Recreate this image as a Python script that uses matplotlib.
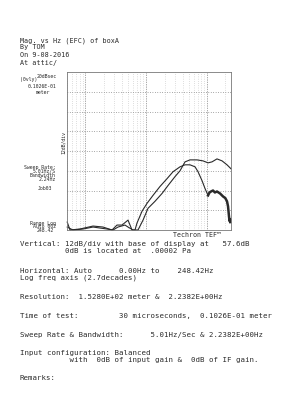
import numpy as np
import matplotlib
matplotlib.use("Agg")
from matplotlib import pyplot as plt

# curve readings (Hz, dB) off the printout
freq_a = [0.5, 0.556, 0.81, 1.33, 1.94, 2.73, 3.30, 3.99, 5.01, 5.83, 6.53, 7.04,
          8.52, 10.3, 12.9, 16.8, 22.0, 27.6, 36.0, 43.5, 52.5, 63.5, 71.2, 82.8,
          92.8, 104]
db_a = [62.4, 57.6, 58.2, 60.0, 59.4, 57.6, 60.6, 60.6, 63.6, 57.6, 57.6, 61.8,
        69.0, 73.8, 78.6, 84.0, 88.8, 93.0, 96.0, 97.2, 97.2, 96.0, 93.0, 87.6,
        82.8, 78.6]
# noisy thick tail of curve a
freq_tail = [104, 110, 116.6, 125.6, 135, 146, 164, 183.6, 200, 213.6, 222, 226, 230, 235, 240, 242]
db_tail = [78.6, 80.4, 81.0, 81.6, 80.4, 81.0, 79.8, 78.0, 77.0, 75.0, 72.0, 69.0, 66.0, 63.0, 64.2, 62.4]

freq_b = [0.5, 0.62, 0.91, 1.33, 2.26, 2.84, 3.43, 4.47, 5.01, 6.05, 7.32, 8.85,
          10.7, 13.9, 18.2, 22.8, 29.7, 36.0, 43.5, 52.5, 68.5, 86.0, 104, 121,
          146, 177, 213.6, 248.4]
db_b = [59.4, 57.6, 58.2, 59.4, 58.2, 57.6, 59.4, 60.6, 59.4, 57.6, 57.6, 63.6,
        70.8, 75.0, 79.8, 84.6, 90.0, 93.6, 99.0, 100.2, 100.2, 99.6, 98.4, 99.0,
        100.8, 99.6, 97.2, 94.8]

f_lo, f_hi = 0.496, 248.42
db_base, db_div, n_div = 57.6, 12, 8

W, H = 282, 400
ink = "#2a2a2a"
mono = "DejaVu Sans Mono"

fig = plt.figure(figsize=(W / 100, H / 100), dpi=100)
fig.patch.set_facecolor("white")

def px(x, y):
    return x / W, 1 - y / H

ax = fig.add_axes([67 / W, 1 - 230 / H, 164 / W, 158 / H])
ax.set_xscale("log")
ax.set_xlim(f_lo, f_hi)
ax.set_ylim(db_base, db_base + db_div * n_div)
ax.set_xticks([])
ax.set_yticks([])
ax.minorticks_off()
for s in ax.spines.values():
    s.set_color("#777777")
    s.set_linewidth(0.6)

# grid
for k in range(1, n_div):
    ax.axhline(db_base + k * db_div, color="#555555", lw=0.5, ls=(0, (1, 2.5)))
for dec in [0.1, 1, 10, 100]:
    for m in range(1, 10):
        f = dec * m
        if f_lo < f < f_hi:
            if m == 1:
                ax.axvline(f, color="#555555", lw=0.5, ls=(0, (1, 1.5)))
            else:
                ax.axvline(f, color="#999999", lw=0.4, ls=(0, (1, 3)))

ax.plot(freq_a, db_a, color=ink, lw=0.8, clip_on=False)
ax.plot(freq_tail, db_tail, color=ink, lw=1.8, clip_on=False)
ax.plot(freq_b, db_b, color=ink, lw=0.8, clip_on=False)

# header
hdr = dict(fontsize=4.9, family=mono, color=ink, va="center", ha="left")
fig.text(*px(20, 41), "Mag. vs Hz (EFC) of boxA", **hdr)
fig.text(*px(20, 47), "By TOM", **hdr)
fig.text(*px(20, 55), "On 9-08-2016", **hdr)
fig.text(*px(20, 63), "At attic/", **hdr)

# left side labels
sml = dict(fontsize=3.5, family=mono, color=ink, va="center", ha="right")
fig.text(*px(20, 80), "(0vly)", fontsize=3.5, family=mono, color=ink,
         va="center", ha="left")
fig.text(*px(57, 77), "20dBsec", **sml)
fig.text(*px(56, 86), "0.1026E-01", **sml)
fig.text(*px(50, 92), "meter", **sml)
fig.text(*px(63, 142), "12dB/div", fontsize=3.5, family=mono, color=ink,
         va="center", ha="center", rotation=90)
fig.text(*px(56, 167), "Sweep Rate:", **sml)
fig.text(*px(56, 171), "5.01Hz/S", **sml)
fig.text(*px(56, 176), "Bandwidth", **sml)
fig.text(*px(56, 180), "2.24Hz", **sml)
fig.text(*px(52, 189), "Job03", **sml)
fig.text(*px(56, 223), "Range Log", **sml)
fig.text(*px(56, 227), "Auto 002", **sml)
fig.text(*px(54, 231), "248.42", **sml)

fig.text(*px(173, 235), "Techron TEF\u2122", fontsize=4.8, family=mono, color=ink,
         va="center", ha="left")

# footer block
body = dict(fontsize=5.3, family=mono, color=ink, va="center", ha="left")
lines = [
    (244, "Vertical: 12dB/div with base of display at   57.6dB"),
    (251, "          0dB is located at  .00002 Pa"),
    (271, "Horizontal: Auto      0.00Hz to    248.42Hz"),
    (278, "Log freq axis (2.7decades)"),
    (297, "Resolution:  1.5280E+02 meter &  2.2382E+00Hz"),
    (316, "Time of test:         30 microseconds,  0.1026E-01 meter"),
    (335, "Sweep Rate & Bandwidth:      5.01Hz/Sec & 2.2382E+00Hz"),
    (353, "Input configuration: Balanced"),
    (360, "           with  0dB of input gain &  0dB of IF gain."),
    (378, "Remarks:"),
]
for y, t in lines:
    fig.text(*px(20, y), t, **body)

fig.savefig("out.png", dpi=100, facecolor="white")
